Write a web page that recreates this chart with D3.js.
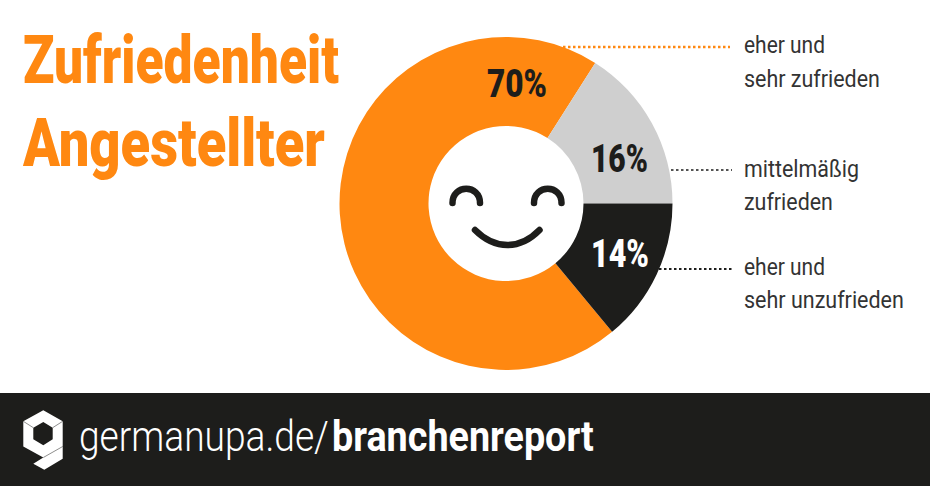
<!DOCTYPE html>
<html lang="de">
<head>
<meta charset="UTF-8">
<title>Zufriedenheit Angestellter</title>
<script src="https://d3js.org/d3.v7.min.js"></script>
<style>
  html, body { margin: 0; padding: 0; background: #fff; }
  svg { display: block; }
  text { font-family: "Roboto", "Liberation Sans", sans-serif; }
</style>
</head>
<body>
<script>
// chart data
var categories = ["eher und sehr zufrieden", "mittelmäßig zufrieden", "eher und sehr unzufrieden"];
var shares = [70, 16, 14];
var shareLabels = ["70%", "16%", "14%"];
var sliceColors = ["#ff8811", "#cfcfcf", "#1d1d1b"];
var labelColors = ["#1d1d1b", "#1d1d1b", "#ffffff"];
var titleLines = ["Zufriedenheit", "Angestellter"];
var legendLines = [["eher und", "sehr zufrieden"], ["mittelmäßig", "zufrieden"], ["eher und", "sehr unzufrieden"]];

var width = 930, height = 486;
var cx = 506, cy = 203.5, outer = 166.5, inner = 77.5;
var dark = "#1d1d1b", orange = "#ff8811";

var svg = d3.select("body").append("svg")
    .attr("width", width)
    .attr("height", height);

// helper: the original face is a condensed DIN, so squeeze each text to its measured width
function label(x, y, str, size, weight, fill, w) {
    var t = svg.append("text")
        .attr("font-size", size)
        .attr("font-weight", weight)
        .attr("fill", fill)
        .text(str);
    var k = w / t.node().getComputedTextLength();
    t.attr("transform", "translate(" + x + "," + y + ") scale(" + k + ",1)");
    return t;
}

// title
var titleY = [83, 166], titleW = [316, 302];
titleLines.forEach(function (t, i) {
    label(23, titleY[i], t, 67, 900, orange, titleW[i]);
});

// donut, the black slice ends up starting at 3 o'clock
var start = (Math.PI / 2) + (shares[2] / 100) * 2 * Math.PI;
var pie = d3.pie().sort(null).startAngle(start).endAngle(start + 2 * Math.PI);
var arc = d3.arc().innerRadius(inner).outerRadius(outer);

var ring = svg.append("g").attr("transform", "translate(" + cx + "," + cy + ")");
ring.selectAll("path")
    .data(pie(shares))
    .enter()
    .append("path")
    .attr("d", arc)
    .attr("fill", function (d, i) { return sliceColors[i]; })
    .append("title")
    .text(function (d, i) { return categories[i]; });

// percentages
var pctX = [487, 591, 591], pctY = [97, 172, 267], pctW = [60, 57, 58];
shareLabels.forEach(function (t, i) {
    label(pctX[i], pctY[i], t, 39, 900, labelColors[i], pctW[i]);
});

// leader lines
var leaders = [
    { x1: 563, x2: 730, y: 47, c: orange, sw: 2.5 },
    { x1: 671, x2: 732, y: 170, c: dark, sw: 1.5 },
    { x1: 659, x2: 732, y: 269, c: dark, sw: 2 }
];
svg.selectAll("line.leader")
    .data(leaders)
    .enter()
    .append("line")
    .attr("class", "leader")
    .attr("x1", function (d) { return d.x1; })
    .attr("x2", function (d) { return d.x2; })
    .attr("y1", function (d) { return d.y; })
    .attr("y2", function (d) { return d.y; })
    .attr("stroke", function (d) { return d.c; })
    .attr("stroke-width", function (d) { return d.sw; })
    .attr("stroke-dasharray", "2.5,2.5");

// legend text
var legendY = [[53, 87], [177, 210], [275, 308]];
var legendW = [[81, 136], [115, 89], [81, 160]];
legendLines.forEach(function (pair, i) {
    pair.forEach(function (t, j) {
        label(744, legendY[i][j], t, 24, 400, "#333333", legendW[i][j]);
    });
});

// smiley
var face = svg.append("g")
    .attr("fill", "none")
    .attr("stroke", dark)
    .attr("stroke-width", 6.5)
    .attr("stroke-linecap", "round");
face.append("path").attr("d", "M452.5 203 C452.5 184 480 184 480 203");
face.append("path").attr("d", "M534 203 C534 184 561.5 184 561.5 203");
face.append("path").attr("d", "M475 230 C495 250 520 250 539.5 230");

// footer band
svg.append("rect")
    .attr("x", 0).attr("y", 393)
    .attr("width", width).attr("height", height - 393)
    .attr("fill", dark);

// logo
var logo = svg.append("g");
logo.append("path")
    .attr("fill", "#fff")
    .attr("fill-rule", "evenodd")
    .attr("d", "M43.3 410.3 L62.7 421.3 L62.7 458.7 L44.3 469.7 L33.3 463.7 L43.3 457.5 L23.3 446.5 L23.3 421.3 Z M43.3 422 L33.3 427.7 L33.3 439.3 L43.3 445.3 L52.7 439.3 L52.7 427.7 Z");
logo.append("path")
    .attr("fill", "none")
    .attr("stroke", dark)
    .attr("stroke-width", 0.5)
    .attr("d", "M23.3 421.3 L33.3 427.7 M62.7 421.3 L52.7 427.7 M43.3 457.5 L62.7 446.5");

label(79, 451, "germanupa.de/", 43, 300, "#ffffff", 250);
label(332, 451, "branchenreport", 43, 700, "#ffffff", 262);
</script>
</body>
</html>
